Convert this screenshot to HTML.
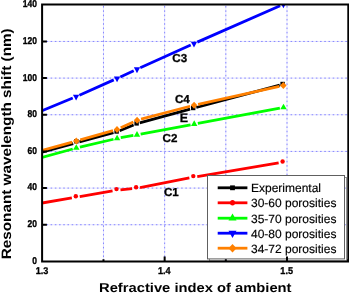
<!DOCTYPE html>
<html><head><meta charset="utf-8"><style>
html,body{margin:0;padding:0;background:#fff;width:349px;height:294px;overflow:hidden}
svg{display:block;font-family:"Liberation Sans",sans-serif;-webkit-font-smoothing:antialiased;will-change:transform} text{text-rendering:geometricPrecision}
</style></head><body><svg width="349" height="294" viewBox="0 0 349 294" font-family="Liberation Sans, sans-serif"><g stroke="#e6e6ff" stroke-width="1"><line x1="42.1" y1="224.74" x2="348.3" y2="224.74"/><line x1="42.1" y1="188.08" x2="348.3" y2="188.08"/><line x1="42.1" y1="151.42" x2="348.3" y2="151.42"/><line x1="42.1" y1="114.76" x2="348.3" y2="114.76"/><line x1="42.1" y1="78.10" x2="348.3" y2="78.10"/><line x1="42.1" y1="41.44" x2="348.3" y2="41.44"/><line x1="103.48" y1="261" x2="103.48" y2="4.5"/><line x1="164.65" y1="261" x2="164.65" y2="4.5"/><line x1="225.82" y1="261" x2="225.82" y2="4.5"/><line x1="287.00" y1="261" x2="287.00" y2="4.5"/></g><g stroke="#8686ff" stroke-width="1" stroke-dasharray="1.6 2.61" stroke-dashoffset="-0.08"><line x1="42.1" y1="224.74" x2="348.3" y2="224.74"/><line x1="42.1" y1="188.08" x2="348.3" y2="188.08"/><line x1="42.1" y1="151.42" x2="348.3" y2="151.42"/><line x1="42.1" y1="114.76" x2="348.3" y2="114.76"/><line x1="42.1" y1="78.10" x2="348.3" y2="78.10"/><line x1="42.1" y1="41.44" x2="348.3" y2="41.44"/></g><g stroke="#8686ff" stroke-width="1" stroke-dasharray="1.6 2.7" stroke-dashoffset="0.3"><line x1="103.48" y1="261" x2="103.48" y2="4.5"/><line x1="164.65" y1="261" x2="164.65" y2="4.5"/><line x1="225.82" y1="261" x2="225.82" y2="4.5"/><line x1="287.00" y1="261" x2="287.00" y2="4.5"/></g><clipPath id="pc"><rect x="42.1" y="4.5" width="306.2" height="257.0"/></clipPath><g clip-path="url(#pc)"><path d="M42.00 152.20L73.21 143.65M79.39 141.96L113.51 132.74M119.57 130.70L133.63 125.00M139.69 122.95L190.11 109.15M196.29 107.48L279.71 85.22" stroke="#000000" stroke-width="2.8" fill="none" stroke-linecap="butt"/><rect x="74.10" y="139.10" width="4.40" height="4.40" fill="#000000"/><rect x="114.40" y="129.30" width="4.40" height="4.40" fill="#000000"/><rect x="134.40" y="121.20" width="4.40" height="4.40" fill="#000000"/><rect x="191.00" y="105.80" width="4.40" height="4.40" fill="#000000"/><rect x="280.40" y="81.80" width="4.40" height="4.40" fill="#000000"/><path d="M42.00 203.00L71.86 197.97M79.74 196.61L112.56 190.89M120.48 189.82L132.12 188.73M140.03 187.58L189.37 177.97M197.25 176.54L278.65 162.96" stroke="#ff0000" stroke-width="2.8" fill="none" stroke-linecap="butt"/><ellipse cx="75.80" cy="196.20" rx="2.20" ry="2.20" fill="#ff0000"/><ellipse cx="116.50" cy="189.10" rx="2.20" ry="2.20" fill="#ff0000"/><ellipse cx="136.10" cy="187.25" rx="2.20" ry="2.20" fill="#ff0000"/><ellipse cx="193.30" cy="176.10" rx="2.20" ry="2.20" fill="#ff0000"/><ellipse cx="282.60" cy="161.50" rx="2.20" ry="2.20" fill="#ff0000"/><path d="M42.00 157.40L72.73 148.98M79.90 147.15L113.50 139.25M120.74 137.74L133.36 135.46M140.64 134.12L190.56 124.78M197.84 123.42L279.86 108.18" stroke="#00ff00" stroke-width="2.8" fill="none" stroke-linecap="butt"/><path d="M76.30 144.27 L79.50 149.87 L73.10 149.87Z" fill="#00ff00"/><path d="M117.10 134.67 L120.30 140.27 L113.90 140.27Z" fill="#00ff00"/><path d="M137.00 131.07 L140.20 136.67 L133.80 136.67Z" fill="#00ff00"/><path d="M194.20 120.37 L197.40 125.97 L191.00 125.97Z" fill="#00ff00"/><path d="M283.50 103.77 L286.70 109.37 L280.30 109.37Z" fill="#00ff00"/><path d="M42.00 110.70L72.77 98.07M79.39 95.23L113.76 79.87M120.33 76.91L133.72 70.79M140.28 67.82L190.72 45.08M197.30 42.15L280.10 5.75" stroke="#0000ff" stroke-width="2.8" fill="none" stroke-linecap="butt"/><path d="M76.10 100.57 L79.25 94.77 L72.95 94.77Z" fill="#0000ff"/><path d="M117.05 82.27 L120.20 76.47 L113.90 76.47Z" fill="#0000ff"/><path d="M137.00 73.17 L140.15 67.37 L133.85 67.37Z" fill="#0000ff"/><path d="M194.00 47.47 L197.15 41.67 L190.85 41.67Z" fill="#0000ff"/><path d="M283.40 8.17 L286.55 2.37 L280.25 2.37Z" fill="#0000ff"/><path d="M42.00 150.50L72.35 142.09M80.25 139.89L113.05 130.61M120.72 127.78L133.38 121.92M141.07 119.16L190.13 106.24M198.10 104.32L279.30 86.38" stroke="#ff8000" stroke-width="2.8" fill="none" stroke-linecap="butt"/><path d="M76.30 137.50 L79.60 141.00 L76.30 144.50 L73.00 141.00Z" fill="#ff8000"/><path d="M117.00 126.00 L120.30 129.50 L117.00 133.00 L113.70 129.50Z" fill="#ff8000"/><path d="M137.10 116.70 L140.40 120.20 L137.10 123.70 L133.80 120.20Z" fill="#ff8000"/><path d="M194.10 101.70 L197.40 105.20 L194.10 108.70 L190.80 105.20Z" fill="#ff8000"/><path d="M283.30 82.00 L286.60 85.50 L283.30 89.00 L280.00 85.50Z" fill="#ff8000"/></g><text x="164.00" y="195.50" font-size="11.6" font-weight="bold" stroke="#000" stroke-width="0.3">C1</text><text x="162.60" y="142.20" font-size="11.6" font-weight="bold" stroke="#000" stroke-width="0.3">C2</text><text x="172.30" y="61.50" font-size="11.6" font-weight="bold" stroke="#000" stroke-width="0.3">C3</text><text x="175.00" y="103.00" font-size="11.6" font-weight="bold" stroke="#000" stroke-width="0.3">C4</text><text x="179.80" y="121.70" font-size="12.4" font-weight="bold" stroke="#000" stroke-width="0.3">E</text><rect x="209.5" y="177.5" width="137.0" height="83.39999999999998" fill="none" stroke="#909090" stroke-width="1"/><rect x="207.5" y="175.5" width="137.0" height="83.39999999999998" fill="#fff" stroke="#606060" stroke-width="1"/><line x1="217.7" y1="187.80" x2="247.4" y2="187.80" stroke="#000000" stroke-width="2.8"/><rect x="230.10" y="185.40" width="4.80" height="4.80" fill="#000000"/><text x="251" y="192.20" font-size="12" stroke="#000" stroke-width="0.15">Experimental</text><line x1="217.7" y1="202.80" x2="247.4" y2="202.80" stroke="#ff0000" stroke-width="2.8"/><ellipse cx="232.50" cy="202.80" rx="2.50" ry="2.70" fill="#ff0000"/><text x="251" y="207.20" font-size="12" stroke="#000" stroke-width="0.15">30-60 porosities</text><line x1="217.7" y1="218.20" x2="247.4" y2="218.20" stroke="#00ff00" stroke-width="2.8"/><path d="M232.50 213.47 L236.55 220.57 L228.45 220.57Z" fill="#00ff00"/><text x="251" y="222.60" font-size="12" stroke="#000" stroke-width="0.15">35-70 porosities</text><line x1="217.7" y1="233.20" x2="247.4" y2="233.20" stroke="#0000ff" stroke-width="2.8"/><path d="M232.50 237.93 L236.50 230.83 L228.50 230.83Z" fill="#0000ff"/><text x="251" y="237.60" font-size="12" stroke="#000" stroke-width="0.15">40-80 porosities</text><line x1="217.7" y1="248.20" x2="247.4" y2="248.20" stroke="#ff8000" stroke-width="2.8"/><path d="M232.50 243.95 L236.50 248.20 L232.50 252.45 L228.50 248.20Z" fill="#ff8000"/><text x="251" y="252.60" font-size="12" stroke="#000" stroke-width="0.15">34-72 porosities</text><rect x="42.1" y="4.5" width="306.2" height="257.0" fill="none" stroke="#000" stroke-width="2"/><path d="M42.1 224.74h4.8M42.1 188.08h4.8M42.1 151.42h4.8M42.1 114.76h4.8M42.1 78.10h4.8M42.1 41.44h4.8M164.65 261.5v-5M287.00 261.5v-5M103.48 261.5v-2.2M225.82 261.5v-2.2M348.18 261.5v-2.2" stroke="#000" stroke-width="2" fill="none"/><text transform="translate(37.0 263.60) scale(0.86 1)" font-size="9.9" font-weight="bold" text-anchor="end" stroke="#000" stroke-width="0.35">0</text><text transform="translate(37.0 227.00) scale(0.86 1)" font-size="9.9" font-weight="bold" text-anchor="end" stroke="#000" stroke-width="0.35">20</text><text transform="translate(37.0 190.40) scale(0.86 1)" font-size="9.9" font-weight="bold" text-anchor="end" stroke="#000" stroke-width="0.35">40</text><text transform="translate(37.0 153.80) scale(0.86 1)" font-size="9.9" font-weight="bold" text-anchor="end" stroke="#000" stroke-width="0.35">60</text><text transform="translate(37.0 117.20) scale(0.86 1)" font-size="9.9" font-weight="bold" text-anchor="end" stroke="#000" stroke-width="0.35">80</text><text transform="translate(37.0 80.60) scale(0.86 1)" font-size="9.9" font-weight="bold" text-anchor="end" stroke="#000" stroke-width="0.35">100</text><text transform="translate(37.0 44.00) scale(0.86 1)" font-size="9.9" font-weight="bold" text-anchor="end" stroke="#000" stroke-width="0.35">120</text><text transform="translate(37.0 6.80) scale(0.86 1)" font-size="9.9" font-weight="bold" text-anchor="end" stroke="#000" stroke-width="0.35">140</text><text transform="translate(42.00 273.7) scale(0.93 1)" font-size="9.8" font-weight="bold" text-anchor="middle" stroke="#000" stroke-width="0.3">1.3</text><text transform="translate(164.35 273.7) scale(0.93 1)" font-size="9.8" font-weight="bold" text-anchor="middle" stroke="#000" stroke-width="0.3">1.4</text><text transform="translate(286.70 273.7) scale(0.93 1)" font-size="9.8" font-weight="bold" text-anchor="middle" stroke="#000" stroke-width="0.3">1.5</text><text x="99" y="291.8" font-size="12.9" font-weight="bold" textLength="192.5" lengthAdjust="spacingAndGlyphs">Refractive index of ambient</text><text transform="translate(11.25 258.5) rotate(-90)" x="-0.8" y="0" font-size="13.6" font-weight="bold" textLength="231" lengthAdjust="spacingAndGlyphs">Resonant wavelength shift (nm)</text></svg></body></html>
